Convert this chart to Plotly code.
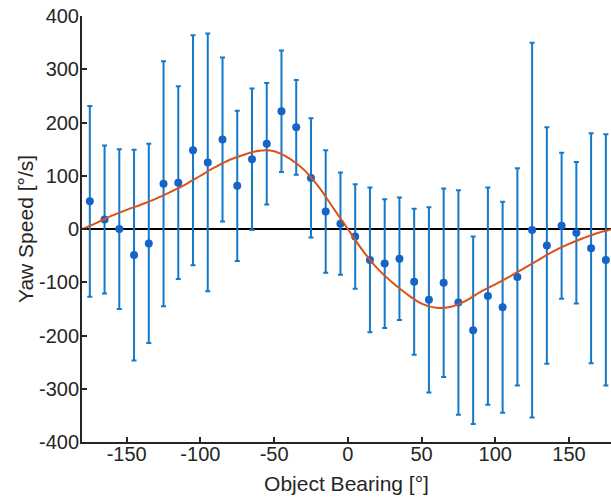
import plotly.graph_objects as go

# Binned data: object bearing (deg), mean yaw speed (deg/s), symmetric error
bearing = [-175, -165, -155, -145, -135, -125, -115, -105, -95, -85, -75, -65,
           -55, -45, -35, -25, -15, -5, 5, 15, 25, 35, 45, 55, 65, 75, 85, 95,
           105, 115, 125, 135, 145, 155, 165, 175]
yaw_mean = [52, 18, 0, -49, -27, 85, 87, 148, 125, 168, 81, 131,
            160, 221, 191, 96, 33, 10, -14, -58, -65, -56, -99, -133, -101, -138, -190, -126,
            -147, -90, -2, -31, 6, -7, -36, -58]
yaw_err = [179, 139, 150, 198, 187, 230, 181, 216, 242, 154, 141, 133,
           114, 114, 89, 112, 115, 96, 98, 136, 121, 115, 137, 174, 177, 211, 176, 204,
           198, 204, 352, 222, 137, 133, 216, 236]

# Fitted curve
fit_x = [-180, -170, -160, -150, -140, -130, -120, -110, -100, -90, -80, -70, -60, -50,
         -40, -30, -20, -10, 0, 10, 20, 30, 40, 50, 60, 70, 80, 90, 100, 110, 120,
         130, 140, 150, 160, 170, 180]
fit_y = [0, 12, 25, 36, 46, 57, 70, 84, 100, 116, 130, 140, 147, 146,
         133, 112, 80, 40, 0, -40, -74, -100, -122, -140, -148, -146, -135, -118, -104, -89, -73,
         -57, -41, -28, -17, -7, 0]

xticks = [-150, -100, -50, 0, 50, 100, 150]
yticks = [-400, -300, -200, -100, 0, 100, 200, 300, 400]

BLUE = "#1479c9"
MARK = "#1565c8"
ORANGE = "#D95319"
AX = "#262626"
FONT = "Liberation Sans, Arial, sans-serif"

fig = go.Figure()
fig.add_trace(go.Scatter(
    x=bearing, y=yaw_mean, mode="markers",
    marker=dict(size=8, color=MARK),
    error_y=dict(type="data", array=yaw_err, visible=True, color=BLUE, thickness=2, width=2.5),
    showlegend=False,
))
fig.add_trace(go.Scatter(
    x=fit_x, y=fit_y, mode="lines", line=dict(color=ORANGE, width=2, shape="spline", smoothing=1),
    showlegend=False,
))

fig.update_layout(
    width=611, height=499,
    margin=dict(l=82, r=0, t=16, b=57),
    plot_bgcolor="white", paper_bgcolor="white",
    font=dict(family=FONT, size=20, color=AX),
    xaxis=dict(
        range=[-180.3, 178.5], tickvals=xticks, ticktext=[str(v) for v in xticks],
        showline=True, linecolor=AX, linewidth=2, ticks="inside", ticklen=5,
        tickcolor=AX, tickwidth=1.5, showgrid=False, zeroline=False, automargin=False,
        ticklabelstandoff=-7,
        title=dict(text="Object Bearing [°]", font=dict(size=21), standoff=12),
    ),
    yaxis=dict(
        range=[-400, 400], tickvals=yticks, ticktext=[str(v) for v in yticks],
        showline=True, linecolor=AX, linewidth=2, ticks="inside", ticklen=5,
        tickcolor=AX, tickwidth=1.5, showgrid=False, automargin=False,
        ticklabelstandoff=-3,
        zeroline=True, zerolinecolor="black", zerolinewidth=2,
        title=dict(text="Yaw Speed [°/s]", font=dict(size=21), standoff=0),
    ),
)

fig.write_html("out.html", config={"displayModeBar": False},
               post_script="document.body.style.margin='0';")
